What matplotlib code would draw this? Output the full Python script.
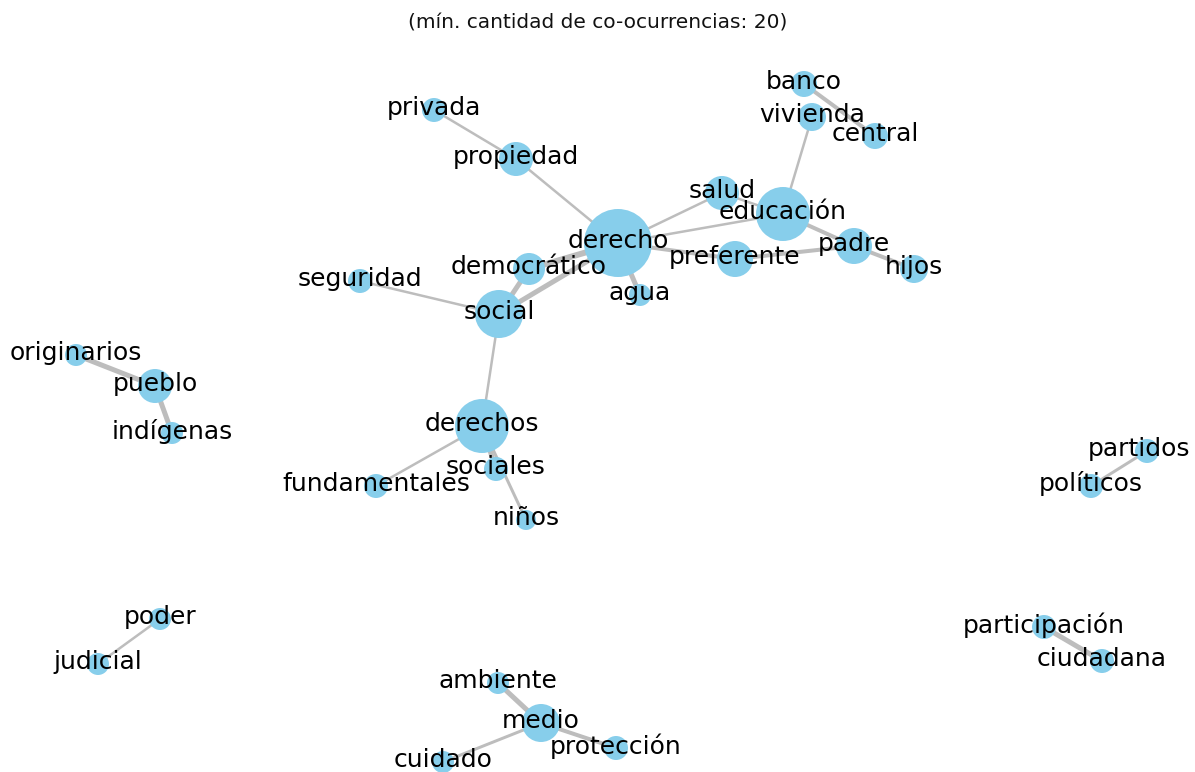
import matplotlib
matplotlib.use('Agg')
import matplotlib.pyplot as plt

# co-occurrence network: node positions (layout, px), node radius (px)
nodes = ['derecho', 'educación', 'social', 'derechos', 'pueblo', 'medio',
         'propiedad', 'democrático', 'preferente', 'padre', 'salud', 'vivienda',
         'banco', 'central', 'hijos', 'agua', 'privada', 'seguridad',
         'originarios', 'indígenas', 'fundamentales', 'sociales', 'niños',
         'partidos', 'políticos', 'participación', 'ciudadana', 'poder',
         'judicial', 'ambiente', 'protección', 'cuidado']
pos_x = [618, 783, 499, 482, 155, 541, 516, 529, 735, 854, 722, 812,
         804, 875, 914, 640, 434, 360, 76, 172, 376, 496, 526,
         1147, 1091, 1044, 1102, 160, 98, 498, 616, 443]
pos_y = [243, 214, 314, 426, 386, 723, 159, 269, 259, 246, 193, 117,
         84, 136, 269, 295, 110, 281, 355, 433, 486, 469, 520,
         451, 486, 627, 661, 619, 664, 683, 748, 762]
radius = [34, 27, 24, 27, 17, 19, 17, 16, 18, 18, 17, 14,
          13, 13, 14, 11, 12, 12, 11, 11, 12, 12, 10,
          12, 12, 12, 12, 11, 11, 11, 12, 11]

edges = [('derecho', 'democrático', 6), ('democrático', 'social', 5),
         ('derecho', 'social', 5), ('derecho', 'agua', 5),
         ('derecho', 'propiedad', 2.5), ('propiedad', 'privada', 2.5),
         ('derecho', 'salud', 2.5), ('derecho', 'educación', 2.5),
         ('salud', 'educación', 2.5), ('derecho', 'preferente', 4),
         ('preferente', 'padre', 4), ('educación', 'padre', 4),
         ('padre', 'hijos', 4), ('educación', 'vivienda', 2.5),
         ('banco', 'central', 4), ('social', 'seguridad', 2.5),
         ('social', 'derechos', 2.5), ('derechos', 'fundamentales', 2.5),
         ('derechos', 'sociales', 5), ('derechos', 'niños', 3),
         ('pueblo', 'originarios', 5), ('pueblo', 'indígenas', 5),
         ('partidos', 'políticos', 3), ('participación', 'ciudadana', 5),
         ('poder', 'judicial', 2.5), ('medio', 'ambiente', 5),
         ('medio', 'protección', 4), ('medio', 'cuidado', 3)]

title = '(mín. cantidad de co-ocurrencias: 20)'

W, H = 1195, 772
fig = plt.figure(figsize=(W / 100, H / 100), dpi=100)
ax = fig.add_axes([0, 0, 1, 1])
ax.set_xlim(0, W)
ax.set_ylim(H, 0)
ax.axis('off')

idx = {n: i for i, n in enumerate(nodes)}
for a, b, w in edges:
    i, j = idx[a], idx[b]
    ax.plot([pos_x[i], pos_x[j]], [pos_y[i], pos_y[j]], color='#bdbdbd',
            linewidth=w * 0.72, solid_capstyle='butt', zorder=1)

sizes = [(2 * r * 0.72) ** 2 for r in radius]
ax.scatter(pos_x, pos_y, s=sizes, color='#87ceeb', linewidths=0, zorder=2)

# labels that would run past the right edge get pulled back in
label_shift = {'partidos': -8}
for n, x, y in zip(nodes, pos_x, pos_y):
    ax.text(x + label_shift.get(n, 0), y - 2, n, ha='center', va='center',
            fontsize=18, color='black', zorder=3)

ax.text(W / 2, 23, title, ha='center', va='center', fontsize=14.5, color='#111111')

fig.savefig('out.png', dpi=100)
